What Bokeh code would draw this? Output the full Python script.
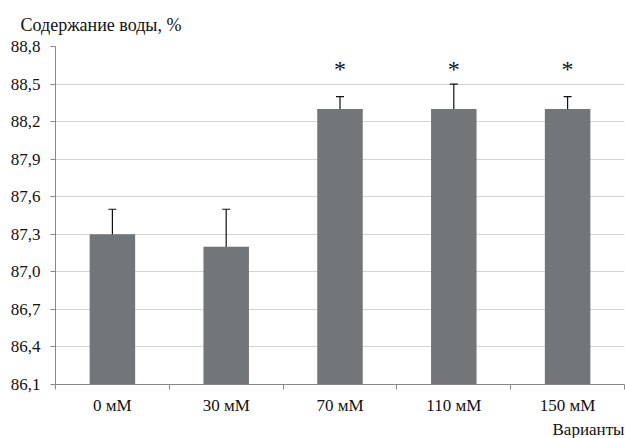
from bokeh.plotting import figure
from bokeh.models import (ColumnDataSource, Range1d, FixedTicker, CustomJSTickFormatter,
                          Whisker, TeeHead, Title)
from bokeh.core.properties import value
from bokeh.embed import file_html
from bokeh.resources import INLINE

categories = ["0 мМ", "30 мМ", "70 мМ", "110 мМ", "150 мМ"]
water = [87.3, 87.2, 88.3, 88.3, 88.3]
err = [0.2, 0.3, 0.1, 0.2, 0.1]
significant = [False, False, True, True, True]
y_ticks = [86.1, 86.4, 86.7, 87.0, 87.3, 87.6, 87.9, 88.2, 88.5, 88.8]
star_level = 88.62
y_title = "Содержание воды, %"
x_title = "Варианты"

FONT = "Liberation Serif"
xs = list(range(len(categories)))
src = ColumnDataSource(dict(
    x=xs, top=water,
    upper=[v + e for v, e in zip(water, err)],
    lower=[v - e for v, e in zip(water, err)],
))
stars = ColumnDataSource(dict(
    x=[x for x, s in zip(xs, significant) if s],
    y=[star_level for s in significant if s],
    t=["*" for s in significant if s],
))

p = figure(width=625, height=438, output_backend="svg", toolbar_location=None,
           x_range=Range1d(-0.5, 4.5), y_range=Range1d(y_ticks[0], y_ticks[-1]),
           min_border_left=55, min_border_right=1, min_border_top=44, min_border_bottom=0)
p.outline_line_color = None
p.background_fill_color = "white"

t_top = Title(text=y_title, align="left", offset=-35, text_font=FONT,
              text_font_size="18px", text_font_style="normal", text_color="#111111",
              standoff=24)
p.add_layout(t_top, "above")

p.vbar(x="x", top="top", bottom=y_ticks[0], width=0.4, source=src,
       fill_color="#737678", line_color=None)

w = Whisker(base="x", upper="upper", lower="lower", source=src,
            line_color="#111111", line_width=1.2,
            upper_head=TeeHead(size=8, line_color="#111111", line_width=1.2),
            lower_head=TeeHead(size=8, line_color="#111111", line_width=1.2))
p.add_layout(w)

p.text(x="x", y="y", text="t", source=stars, text_align="center", text_baseline="middle",
       text_font=value(FONT), text_font_size="24px", text_color="#111111")

# x axis
p.xaxis.ticker = FixedTicker(ticks=xs, minor_ticks=[i - 0.5 for i in range(len(categories) + 1)])
p.xaxis.major_label_overrides = {i: c for i, c in enumerate(categories)}
p.xaxis.major_tick_line_color = None
p.xaxis.major_tick_in = 0
p.xaxis.major_tick_out = 0
p.xaxis.minor_tick_line_color = "#888888"
p.xaxis.minor_tick_in = 0
p.xaxis.minor_tick_out = 5
p.xaxis.axis_line_color = "#888888"
p.xaxis.major_label_standoff = 6
p.xaxis.major_label_text_font = FONT
p.xaxis.major_label_text_font_size = "17px"
p.xaxis.major_label_text_color = "#111111"

t_bot = Title(text=x_title, align="right", offset=0, text_font=FONT,
              text_font_size="17px", text_font_style="normal", text_color="#111111",
              standoff=0)
p.add_layout(t_bot, "below")

# y axis
p.yaxis.ticker = FixedTicker(ticks=y_ticks, minor_ticks=[])
p.yaxis.formatter = CustomJSTickFormatter(code="return tick.toFixed(1).replace('.', ',');")
p.yaxis.axis_line_color = "#888888"
p.yaxis.major_tick_line_color = "#888888"
p.yaxis.major_tick_in = 0
p.yaxis.major_tick_out = 5
p.yaxis.minor_tick_line_color = None
p.yaxis.major_label_standoff = 10
p.yaxis.major_label_text_font = FONT
p.yaxis.major_label_text_font_size = "17px"
p.yaxis.major_label_text_color = "#111111"

p.xgrid.grid_line_color = None
p.ygrid.ticker = FixedTicker(ticks=y_ticks)
p.ygrid.grid_line_color = "#d4d4d4"
p.ygrid.grid_line_width = 1

open("out.html", "w").write(file_html(p, INLINE))
